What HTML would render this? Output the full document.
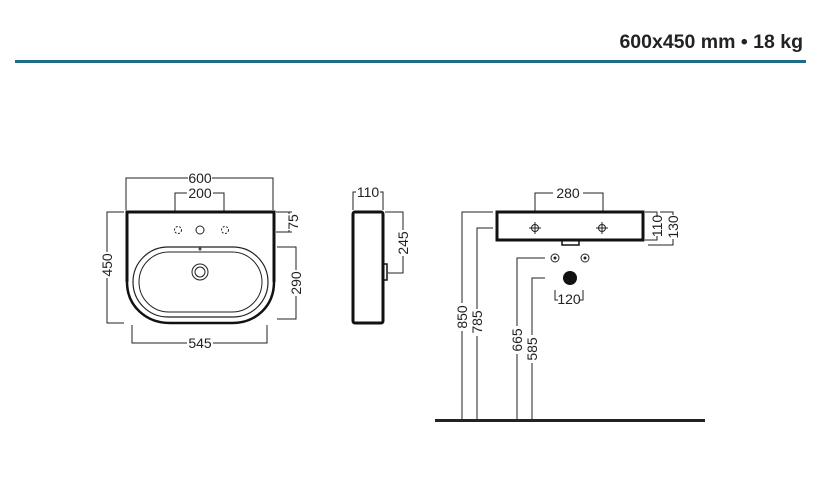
<!DOCTYPE html>
<html><head><style>
html,body{margin:0;padding:0;background:#fff;}
svg{display:block;}
text{font-family:"Liberation Sans",sans-serif;font-size:14px;fill:#222;}
</style></head><body>
<svg width="819" height="483" viewBox="0 0 819 483" xmlns="http://www.w3.org/2000/svg">
<text x="803" y="48" text-anchor="end" style="font-size:19.5px;font-weight:bold;fill:#222">600x450 mm • 18 kg</text>
<rect x="15" y="60" width="791" height="3" fill="#1d6d88"/>
<g stroke="#222" stroke-width="1" fill="none">
<path d="M126,210 V178 H188 M212,178 H273 V210"/>
<path d="M175,212 V193 H187 M213,193 H224 V212"/>
<path d="M276,212 H292 M276,232 H292 M289,212 V214 M289,230 V232"/>
<path d="M277,247 H296 V270 M296,296 V319 H277"/>
<path d="M124,212 H107 V252 M107,278 V323 H124"/>
<path d="M132,325 V343 H187 M213,343 H267 V325"/>
<rect x="133" y="247" width="135" height="70" rx="35" stroke-width="1.2"/>
<rect x="139" y="252" width="123" height="60" rx="30"/>
<circle cx="178" cy="230" r="3.5" stroke-dasharray="2 1.5"/>
<circle cx="200" cy="230" r="4"/>
<circle cx="225" cy="230" r="3.5" stroke-dasharray="2 1.5"/>
<circle cx="200" cy="272" r="8"/>
<circle cx="200" cy="272" r="5"/>
<path d="M353,210 V192 H356 M380,192 H383 V210"/>
<path d="M385,212 H403 V230 M403,256 V273 H388"/>
<path d="M535,212 V193 H553 M583,193 H603 V212"/>
<path d="M645,212 H657 V217 M657,236 V240 H645"/>
<path d="M660,212 H673 V215 M673,239 V245 H648"/>
<path d="M493,212 H462 V303 M462,331 V420"/>
<path d="M493,228 H477 V309 M477,336 V420"/>
<path d="M545,258 H517 V326 M517,354 V420"/>
<path d="M545,278 H532 V335 M532,363 V420"/>
<path d="M555,290 V300 H558 M583,290 V300 H580"/>
<path d="M529,228 H541 M535,222 V234 M596,228 H608 M602,222 V234"/>
<circle cx="535" cy="228" r="3.5"/>
<circle cx="602" cy="228" r="3.5"/>
<circle cx="555" cy="258" r="4"/>
<circle cx="585" cy="258" r="4"/>
</g>
<circle cx="555" cy="258" r="1.5" fill="#222"/>
<circle cx="585" cy="258" r="1.5" fill="#222"/>
<circle cx="570" cy="278" r="7" fill="#111"/>
<circle cx="200" cy="249" r="1.5" fill="#444"/>
<g stroke="#111" stroke-width="3" fill="none">
<path d="M127,282 V212 H274 V282"/>
<path d="M127,282 C127,306 146,323 170,323 H232 C256,323 274,306 274,282" stroke-width="2.5"/>
<rect x="353" y="212" width="30" height="111" rx="2"/>
<rect x="497" y="212" width="146" height="28"/>
</g>
<rect x="383" y="264" width="4" height="16" fill="none" stroke="#111" stroke-width="1.5"/>
<rect x="562" y="240" width="17" height="5" fill="none" stroke="#111" stroke-width="1.5"/>
<rect x="435" y="419" width="270" height="3" fill="#222"/>
<text x="200" y="183" text-anchor="middle">600</text>
<text x="200" y="198" text-anchor="middle">200</text>
<text x="200" y="348" text-anchor="middle">545</text>
<text x="368" y="197" text-anchor="middle">110</text>
<text x="568" y="198" text-anchor="middle">280</text>
<text x="569" y="304" text-anchor="middle">120</text>
<text transform="translate(298,222) rotate(-90)" text-anchor="middle">75</text>
<text transform="translate(301,283) rotate(-90)" text-anchor="middle">290</text>
<text transform="translate(112,265) rotate(-90)" text-anchor="middle">450</text>
<text transform="translate(408,243) rotate(-90)" text-anchor="middle">245</text>
<text transform="translate(662,226) rotate(-90)" text-anchor="middle">110</text>
<text transform="translate(678,227) rotate(-90)" text-anchor="middle">130</text>
<text transform="translate(467,317) rotate(-90)" text-anchor="middle">850</text>
<text transform="translate(482,322) rotate(-90)" text-anchor="middle">785</text>
<text transform="translate(522,340) rotate(-90)" text-anchor="middle">665</text>
<text transform="translate(537,349) rotate(-90)" text-anchor="middle">585</text>
</svg>
</body></html>
